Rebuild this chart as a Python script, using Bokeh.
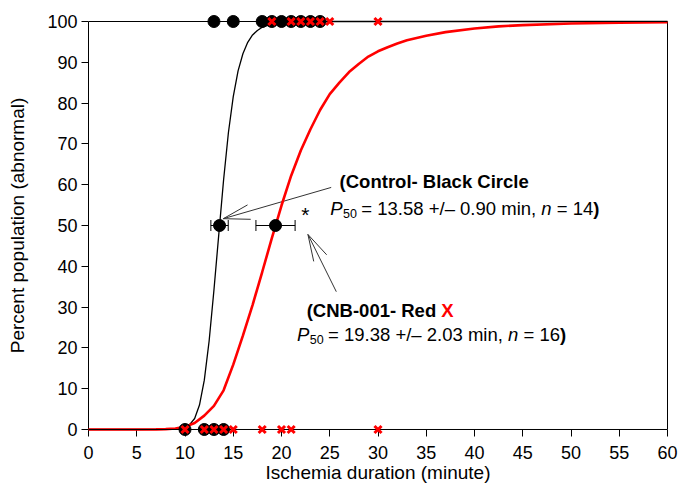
from bokeh.plotting import figure
from bokeh.models import (ColumnDataSource, Whisker, FixedTicker, Range1d, TeeHead,
                          LinearAxis, Span)
from bokeh.embed import file_html
from bokeh.resources import INLINE
from bokeh.core.properties import value

# ---------------- data ----------------
ctrl_bottom_x = [10, 12, 13, 14]
ctrl_bottom_y = [0, 0, 0, 0]
ctrl_top_x = [13, 15, 18, 19, 20, 21, 22, 23, 24]
ctrl_top_y = [100] * 9

cnb_bottom_x = [10, 12, 13, 14, 15, 18, 20, 21, 30]
cnb_bottom_y = [0] * 9
cnb_top_x = [19, 21, 22, 23, 24, 25, 30]
cnb_top_y = [100] * 7

p50_x = [13.58, 19.38]
p50_err = [0.90, 2.03]
p50_y = [50, 50]

ctrl_fit_x = [0, 5, 8, 9, 9.5, 10, 10.5, 11, 11.5, 12, 12.5, 13, 13.5, 14, 14.5, 15,
              15.5, 16, 16.5, 17, 17.5, 18, 19, 20, 22, 25, 60]
ctrl_fit_y = [0, 0, 0.02, 0.1, 0.23, 0.55, 1.25, 2.7, 6.0, 12.1, 21.7, 34.2, 47.8, 61.2,
              72.8, 81.6, 87.9, 92.1, 94.9, 96.7, 97.8, 98.6, 99.35, 99.7, 99.9, 100, 100]

cnb_fit_x = [0, 5, 7, 8, 9, 10, 11, 12, 13, 14, 15, 16, 17, 18, 19, 20, 21, 22, 23,
             24, 25, 26, 27, 28, 29, 30, 31, 32, 33, 35, 37, 40, 42.5, 45, 50, 55, 60]
cnb_fit_y = [0, 0.01, 0.03, 0.1, 0.25, 0.65, 1.58, 3.4, 5.8, 9.6, 15.9, 23.0, 30.5,
             38.6, 46.9, 54.9, 62.2, 68.4, 73.6, 78.3, 82.2, 85.0, 87.6, 89.6, 91.4,
             92.7, 93.7, 94.6, 95.4, 96.5, 97.4, 98.3, 98.8, 99.1, 99.5, 99.7, 99.8]

x_ticks = list(range(0, 61, 5))
y_ticks = list(range(0, 101, 10))

FONT = "Liberation Sans"

# ---------------- figure ----------------
# frame has an 8 px margin beyond 0 and 100 so markers at the limits are not clipped
PAD = 1.961
p = figure(width=678, height=487, x_range=Range1d(0, 60),
           y_range=Range1d(-PAD, 100 + PAD),
           output_backend="svg", toolbar_location=None,
           min_border_left=88, min_border_right=11, min_border_top=13,
           min_border_bottom=50)
p.grid.visible = False
p.outline_line_color = None
p.background_fill_color = "white"
p.border_fill_color = "white"

for ax in (p.xaxis[0], p.yaxis[0]):
    ax.axis_line_color = "black"
    ax.axis_line_width = 1
    ax.major_tick_line_color = "black"
    ax.minor_tick_line_color = None
    ax.major_label_text_font = FONT
    ax.major_label_text_font_size = "18px"
    ax.major_label_text_color = "black"
    ax.axis_label_text_font = FONT
    ax.axis_label_text_font_size = "19px"
    ax.axis_label_text_font_style = "normal"
    ax.axis_label_text_color = "black"

p.xaxis.ticker = FixedTicker(ticks=x_ticks)
p.yaxis.ticker = FixedTicker(ticks=y_ticks)
p.xaxis.axis_label = "Ischemia duration (minute)"
p.yaxis.axis_label = "Percent population (abnormal)"

# x axis: line drawn at y=0 by a span, ticks hang from y=0
p.xaxis.axis_line_color = None
p.xaxis.major_tick_in = 8
p.xaxis.major_tick_out = -1
p.xaxis.major_label_standoff = 8
p.xaxis.axis_label_standoff = 0

p.yaxis.bounds = (0, 100)
p.yaxis.major_tick_in = 0
p.yaxis.major_tick_out = 7
p.yaxis.major_label_standoff = 4
p.yaxis.axis_label_standoff = 16

# frame lines
p.add_layout(Span(location=0, dimension="width", line_color="black", line_width=1))
p.add_layout(Span(location=100, dimension="width", line_color="black", line_width=1))
right_ax = LinearAxis(bounds=(0, 100), ticker=FixedTicker(ticks=[]),
                      axis_line_color="black", major_tick_line_color=None,
                      minor_tick_line_color=None, major_tick_out=0, major_tick_in=0,
                      major_label_standoff=0)
p.add_layout(right_ax, "right")

# fitted curves
r1 = p.line(ctrl_fit_x, ctrl_fit_y, line_color="black", line_width=1.3)
r2 = p.line(cnb_fit_x, cnb_fit_y, line_color="#ff0000", line_width=2.6)
r1.level = "annotation"
r2.level = "annotation"

# P50 error bars
src = ColumnDataSource(dict(
    y=p50_y,
    lower=[a - b for a, b in zip(p50_x, p50_err)],
    upper=[a + b for a, b in zip(p50_x, p50_err)],
))
wh = Whisker(source=src, base="y", lower="lower", upper="upper", dimension="width",
             line_color="black", line_width=1,
             upper_head=TeeHead(size=11, line_color="black", line_width=1),
             lower_head=TeeHead(size=11, line_color="black", line_width=1))
p.add_layout(wh)

# points
s1 = p.scatter(ctrl_bottom_x + ctrl_top_x, ctrl_bottom_y + ctrl_top_y, marker="circle",
               size=12, fill_color="black", line_color="black")
s2 = p.scatter(p50_x, p50_y, marker="circle", size=12, fill_color="black",
               line_color="black")
s3 = p.scatter(cnb_bottom_x + cnb_top_x, cnb_bottom_y + cnb_top_y, marker="x",
               size=10, line_color="#ff0000", line_width=3)
for s in (s1, s2, s3):
    s.level = "overlay"

# ---------------- annotations ----------------
arrow_x0 = [13.97, 13.97, 13.97, 22.74, 22.74, 22.74]
arrow_y0 = [51.67, 51.67, 51.67, 47.8, 47.8, 47.8]
arrow_x1 = [25.15, 16.48, 16.81, 25.68, 23.34, 24.68]
arrow_y1 = [59.33, 55.05, 51.52, 33.78, 41.2, 42.82]
p.segment(arrow_x0, arrow_y0, arrow_x1, arrow_y1, line_color="#333333", line_width=1)

def piece(x, y, txt, dx=0, dy=0, size="18.5px", style="normal", color="black"):
    p.text(x=[x], y=[y], text=[txt], text_font=value(FONT), text_font_size=value(size),
           text_font_style=style, text_color=color, text_baseline="middle",
           text_align="left", x_offset=dx, y_offset=dy)

def p50_line(x, y, val, err, n):
    piece(x, y, "P", 0, 0, style="italic")
    piece(x, y, "50", 12.8, 5, size="12.5px")
    piece(x, y, "= %s +/\u2013 %s min," % (val, err), 31.1)
    piece(x, y, "n", 211.1, 0, style="italic")
    piece(x, y, "= %d" % n, 226.5)
    piece(x, y, ")", 263.0, 0, style="bold")

piece(26.02, 60.7, "(Control- Black Circle", style="bold")
p50_line(25.05, 54.08, "13.58", "0.90", 14)

piece(22.61, 29.12, "(CNB-001- Red", style="bold")
piece(22.61, 29.12, "X", 134.6, 0, style="bold", color="#ff0000")
p50_line(21.6, 23.25, "19.38", "2.03", 16)

piece(22.67, 54.08, "*", -6, 6, size="21px")

open("out.html", "w").write(file_html(p, INLINE))
